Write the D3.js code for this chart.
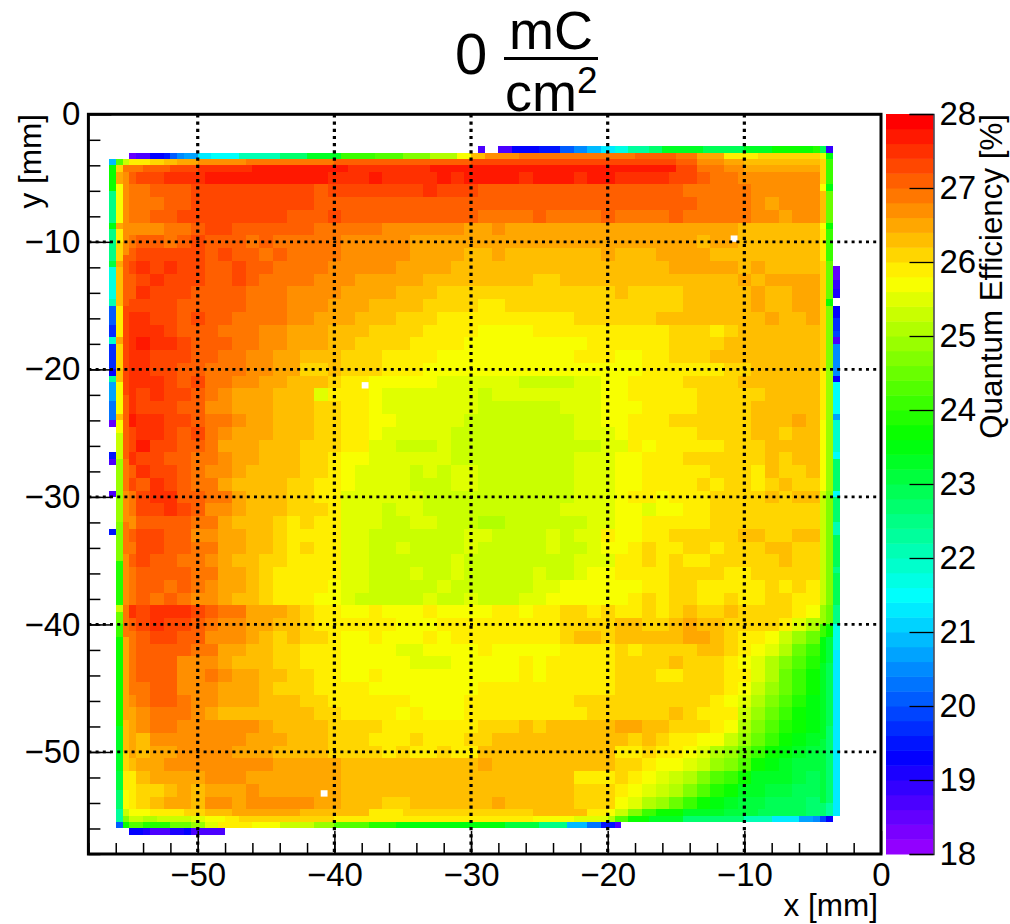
<!DOCTYPE html>
<html><head><meta charset="utf-8">
<script src="https://cdn.jsdelivr.net/npm/d3@7"></script>
<style>html,body{margin:0;padding:0;background:#fff}svg{display:block}text{font-family:"Liberation Sans",Arial,sans-serif;fill:#000}</style>
</head><body><svg id="c" width="1010" height="924"></svg>
<script>
// Quantum efficiency in tenths of a percent; main map: 1 mm cells, x from -55.5, y from -4.5
const qeRows = [
[270,272,272,274,274,274,276,276,276,276,276,276,276,276,276,274,274,274,276,274,274,274,274,276,274,276,276,276,276,274,276,276,276,274,276,276,274,274,274,274,272,272,270,268,268,266,266,266,266,266,266],
[268,268,270,270,270,272,272,272,272,272,272,272,272,272,270,272,272,272,272,272,272,272,274,272,272,272,270,270,270,270,270,270,270,270,270,270,270,270,270,270,270,268,268,268,268,268,266,266,266,266,266],
[268,268,268,270,270,272,272,272,272,272,272,272,272,272,270,270,270,270,270,270,270,270,270,270,270,270,270,270,270,270,270,270,270,270,270,270,270,270,270,270,270,270,268,268,268,268,266,264,266,266,266],
[268,268,270,270,272,272,272,272,272,272,272,272,270,270,270,272,270,270,270,270,270,270,270,270,270,270,268,268,268,268,270,268,268,268,268,270,268,268,268,268,270,268,268,268,268,268,266,266,264,266,266],
[266,266,266,268,268,270,272,272,270,270,270,270,270,270,268,268,268,268,268,266,266,266,266,266,266,264,264,266,264,264,264,264,264,264,264,264,264,264,264,264,264,264,264,264,264,262,262,262,262,262,262],
[268,270,270,268,270,272,270,270,270,268,270,268,268,268,268,268,266,266,266,266,266,264,264,264,264,264,264,264,264,264,264,264,264,264,264,264,264,264,264,264,264,264,262,264,264,262,262,262,262,262,262],
[270,272,272,272,272,272,270,272,270,270,268,270,268,268,268,268,266,266,266,266,266,264,264,264,264,262,262,264,262,262,262,262,262,262,262,264,262,262,262,264,264,264,264,262,262,262,262,262,262,262,262],
[272,274,272,274,272,272,270,270,272,270,270,268,268,268,268,266,266,266,266,266,264,264,264,264,262,262,262,262,262,262,262,262,262,262,262,262,262,262,262,262,264,264,264,264,264,262,264,262,262,262,262],
[270,272,274,272,272,272,270,270,272,270,268,268,268,268,266,266,266,264,264,264,264,264,262,262,262,262,262,262,262,262,260,260,262,262,262,262,262,262,262,262,262,262,262,262,262,264,262,264,264,264,264],
[270,274,272,272,272,270,270,270,270,268,268,268,266,266,266,266,264,264,264,264,262,262,262,260,260,260,260,260,260,260,260,260,260,260,260,260,262,260,260,260,260,262,262,262,262,262,264,262,262,264,264],
[272,272,272,272,270,270,270,270,270,268,268,268,266,266,266,264,264,264,262,262,262,262,260,260,260,260,258,258,260,260,260,260,260,260,260,260,260,260,260,260,260,262,262,262,262,262,264,262,262,264,264],
[274,274,272,272,270,272,270,270,268,268,268,268,266,266,264,264,264,262,262,262,260,260,260,258,258,258,258,258,258,258,258,258,258,260,260,260,260,260,260,262,262,262,262,262,262,262,262,264,262,262,264],
[274,274,274,272,270,270,270,268,268,268,266,266,264,264,264,262,262,262,260,260,260,260,258,258,258,258,256,256,256,256,258,258,258,258,258,258,258,258,258,258,260,260,260,258,260,262,262,262,262,262,262],
[274,276,274,274,272,270,270,270,268,268,266,266,264,264,264,262,262,260,260,260,260,258,258,258,258,256,256,256,256,256,256,256,256,256,258,258,258,258,258,258,260,260,260,260,262,262,262,262,262,262,262],
[274,274,272,272,272,270,270,268,268,266,266,264,264,262,262,262,260,260,260,258,258,258,258,256,256,256,256,256,256,256,256,256,256,258,258,258,256,256,258,258,260,260,260,262,262,262,262,262,262,262,262],
[274,274,272,272,270,270,268,268,268,266,266,264,264,260,260,262,260,260,260,258,258,258,256,256,256,256,256,256,256,256,256,256,256,256,256,256,256,256,258,258,258,258,258,258,260,260,262,262,262,262,262],
[274,274,274,272,270,272,268,268,266,266,264,264,262,262,262,260,258,258,256,256,256,256,256,254,254,254,254,254,254,252,252,252,252,254,254,256,256,258,258,258,258,260,260,260,260,262,262,262,262,262,262],
[274,272,274,272,272,270,268,266,264,264,264,262,262,262,254,258,258,258,256,254,254,254,254,254,254,254,252,254,254,254,254,254,254,254,254,256,256,258,258,258,258,258,260,260,260,260,260,262,262,262,262],
[274,272,272,272,270,270,266,266,264,264,264,262,262,262,260,260,258,258,256,254,254,254,254,254,254,254,252,252,252,252,252,252,254,254,254,256,256,256,258,258,258,258,260,260,260,260,262,262,262,262,262],
[276,274,274,272,272,270,268,268,266,264,264,262,262,262,260,260,258,258,256,256,254,254,254,254,254,252,252,252,252,252,252,252,252,254,254,256,256,258,258,258,260,260,260,260,260,260,262,262,262,264,262],
[272,274,274,272,270,272,268,266,264,264,264,262,262,262,260,260,258,258,256,254,254,254,254,254,252,252,252,252,252,252,252,252,252,254,254,254,256,258,258,258,258,258,260,260,260,260,262,262,260,262,262],
[272,276,272,272,270,270,268,264,264,264,262,262,262,260,260,260,258,258,254,254,252,252,252,254,252,252,252,252,252,252,252,252,252,252,252,254,254,258,256,258,258,258,258,258,260,260,260,262,262,262,262],
[274,272,272,270,270,268,268,266,264,264,262,262,262,260,260,258,256,256,254,254,254,254,254,254,252,252,252,252,252,252,252,252,252,254,254,254,256,256,258,258,258,260,260,260,260,260,260,262,260,262,262],
[270,274,272,272,270,268,266,266,264,262,262,262,262,260,260,258,256,254,254,254,254,252,254,252,254,254,252,252,252,252,252,252,252,254,254,254,256,256,258,258,258,258,258,260,260,260,258,262,260,260,262],
[272,270,274,272,270,268,268,264,262,262,262,262,260,260,258,258,256,254,254,254,254,252,252,252,254,254,252,252,252,252,252,252,252,254,254,254,256,256,258,258,258,258,260,258,260,260,258,260,262,260,260],
[268,272,274,274,270,270,268,268,264,262,262,262,260,260,258,258,254,254,254,254,254,254,252,252,252,252,252,252,252,252,252,252,252,254,254,254,256,258,258,256,258,258,258,260,260,260,260,262,260,262,262],
[268,272,272,274,272,270,266,266,264,262,262,262,260,260,260,258,254,254,254,252,254,254,252,252,252,252,252,252,252,252,252,252,254,254,254,254,256,256,254,256,256,258,258,260,260,260,260,260,260,260,260],
[266,270,270,270,270,268,268,264,262,262,262,260,258,260,258,258,254,254,254,252,252,254,254,252,252,252,250,250,252,252,252,252,252,252,254,254,256,256,258,258,258,258,258,260,260,260,260,260,260,260,260],
[270,272,272,270,270,266,266,264,264,262,262,260,258,258,258,258,254,254,252,252,252,252,252,252,252,254,254,252,252,252,252,254,252,254,254,258,256,256,258,258,260,260,260,260,260,262,262,260,260,262,262],
[268,272,272,270,270,268,268,264,264,262,262,260,258,260,258,258,254,254,252,252,254,252,252,252,252,254,252,252,252,252,252,254,252,252,254,256,256,258,260,258,258,260,260,258,260,260,260,262,262,260,260],
[270,272,270,270,268,268,266,264,262,262,260,260,258,258,258,258,254,254,252,252,252,252,252,252,254,252,252,252,252,252,252,252,252,254,254,254,258,258,260,258,260,258,258,260,260,260,260,260,262,260,260],
[268,270,270,270,270,268,268,264,264,262,260,258,258,258,258,258,254,254,252,252,252,254,252,252,254,252,252,252,252,252,254,252,252,254,256,256,258,258,258,258,260,260,260,260,258,258,260,260,260,260,260],
[268,270,270,268,270,268,266,264,264,262,260,258,258,258,258,256,254,254,252,252,252,252,252,254,252,252,252,252,252,252,254,254,256,256,256,256,256,256,258,258,260,260,258,258,258,258,258,260,258,260,258],
[268,270,268,270,268,266,266,264,262,262,260,258,258,258,256,256,254,252,252,252,252,252,254,252,252,254,252,252,252,254,254,256,256,256,256,256,256,258,260,258,260,260,258,258,260,258,258,260,260,258,258],
[274,272,274,274,274,272,270,268,268,264,264,264,262,260,258,258,256,256,258,256,256,256,258,256,256,256,256,258,258,256,258,258,260,260,258,260,258,258,260,258,260,262,260,260,262,260,260,260,260,258,256],
[270,272,274,272,272,270,268,266,266,264,264,262,262,260,258,258,258,258,258,258,256,256,256,258,258,258,258,258,258,258,258,258,260,260,260,260,262,262,260,260,262,264,262,262,260,260,260,260,258,254,250],
[268,270,272,272,270,270,266,266,266,264,262,260,262,260,260,258,256,256,258,256,256,256,258,256,258,258,258,258,258,258,258,258,260,262,262,260,262,262,262,262,262,264,264,262,260,258,258,256,252,248,244],
[268,270,270,270,270,268,268,264,264,262,262,260,260,258,258,258,256,256,256,256,254,254,256,256,256,256,258,256,256,256,256,256,258,258,258,258,260,258,260,260,260,260,262,262,260,258,256,254,250,244,240],
[268,270,270,270,266,266,266,264,262,262,262,260,260,258,258,258,256,256,256,256,256,254,254,254,256,256,256,256,256,258,256,258,258,258,258,258,260,260,260,260,262,260,260,260,258,256,254,250,246,242,238],
[268,270,270,270,266,266,268,266,264,264,262,262,260,260,258,258,256,256,258,256,256,256,256,256,256,256,256,256,256,258,256,258,258,258,258,258,260,260,260,258,258,260,260,260,258,258,254,250,244,240,236],
[268,268,270,270,266,266,266,264,264,264,262,260,260,260,258,258,258,258,256,256,256,256,256,256,256,256,258,258,258,258,258,258,258,258,258,258,260,260,260,260,260,260,260,260,258,256,252,248,244,240,236],
[266,268,270,270,268,266,266,264,264,264,262,262,262,260,260,258,258,258,258,258,258,256,256,256,256,258,258,258,258,258,258,258,258,260,260,260,260,260,260,260,260,260,260,258,256,254,250,246,242,238,234],
[264,266,268,268,268,266,264,262,262,262,262,262,262,262,260,260,258,258,258,258,256,258,256,256,256,258,258,258,258,258,258,258,258,258,260,260,260,260,260,260,262,260,258,258,258,252,248,244,240,236,234],
[264,266,268,268,266,266,266,266,266,266,264,262,262,262,262,260,260,260,260,258,258,258,258,258,258,258,260,260,260,262,260,262,262,262,262,262,264,264,262,262,260,260,260,258,256,250,246,242,238,236,234],
[264,262,266,266,266,266,266,266,266,264,264,264,262,262,262,260,260,260,258,258,258,260,258,258,258,260,260,262,262,262,262,262,262,262,262,262,262,260,262,260,258,258,256,256,252,248,244,240,236,234,232],
[264,262,264,264,266,266,266,266,264,264,264,262,262,262,262,260,260,260,260,258,260,258,258,260,258,258,262,262,262,262,262,262,262,262,262,262,258,258,260,258,258,256,254,250,248,244,240,236,234,232,230],
[262,264,264,266,266,266,266,266,266,266,266,264,264,264,264,264,262,262,262,262,262,262,262,262,262,262,264,262,262,262,262,262,262,262,262,262,260,260,258,256,256,254,252,248,246,242,236,234,232,230,230],
[258,262,264,264,264,264,266,266,266,264,264,264,264,264,264,264,262,262,262,262,262,262,262,262,262,262,262,262,262,262,262,262,262,258,258,258,260,258,256,254,252,250,246,242,240,236,232,232,232,230,228],
[258,260,260,262,264,262,264,264,264,266,264,264,264,264,264,264,262,262,262,262,262,262,262,262,262,262,262,262,262,262,262,262,262,260,260,260,258,256,254,252,250,246,242,238,236,232,232,230,230,228,228],
[258,260,262,264,264,262,266,266,264,266,266,266,266,266,264,264,262,262,262,260,260,262,262,262,262,262,262,264,262,262,262,262,262,260,260,260,256,254,250,248,244,240,236,234,232,230,230,228,228,228,226]
];
// Edge runs: [from mm, to mm, QE in tenths of a percent]
const rowT1 = [[-29.5,-29,186],[-28,-27,186],[-27,-25,192],[-25,-23.5,194],[-23.5,-22.5,200],[-22.5,-21.5,204],[-21.5,-20.5,208],[-20.5,-19.5,212],[-19.5,-18.5,216],[-18.5,-17,222],[-17,-16,226],[-16,-13,232],[-13,-10,228],[-10,-8,232],[-8,-5,236],[-5,-4.5,238],[-4.5,-4,228],[-4,-3.5,188]];
const rowT2 = [[-55,-54.5,184],[-54.5,-53.5,187],[-53.5,-52.5,192],[-52.5,-52,194],[-52,-51.5,200],[-51.5,-51,204],[-51,-50,207],[-50,-49,212],[-49,-47,215],[-47,-44,221],[-44,-42,227],[-42,-39.5,233],[-39.5,-37,240],[-37,-35,243],[-35,-33,246],[-33,-31,251],[-31,-30,256],[-30,-29,262],[-29,-26.5,266],[-26.5,-18,268],[-18,-15,270],[-15,-13.5,268],[-13.5,-11.5,264],[-11.5,-9,258],[-9,-4.5,260],[-4.5,-4,254],[-4,-3.5,234]];
const rowT3 = [[-55.5,-55,252],[-55,-53.5,258],[-53.5,-52.5,260],[-52.5,-51.5,262],[-51.5,-50,264],[-50,-46.5,266],[-46.5,-40,268],[-40,-30,270],[-30,-15,272],[-15,-13.5,270],[-13.5,-11.5,266],[-11.5,-10,264],[-10,-4.5,262]];
const rowT4 = [[-55.5,-54,268],[-54,-52,270],[-52,-50,272],[-50,-46,274],[-46,-39,276],[-39,-33,274],[-33,-15,276],[-15,-13.5,272],[-13.5,-11.5,268],[-11.5,-10,266],[-10,-4.5,264]];
const rowC = [[-55.5,-55,252],[-55,-53.5,256],[-53.5,-51,258],[-51,-49.5,260],[-49.5,-47.5,262],[-47.5,-42.5,264],[-42.5,-37.5,262],[-37.5,-35,258],[-35,-30,260],[-30,-25.5,260],[-25.5,-21.5,262],[-21.5,-20,258],[-20,-19.5,256],[-19.5,-18.5,252],[-18.5,-17.5,246],[-17.5,-16.5,240],[-16.5,-14.5,236],[-14.5,-11.5,232],[-11.5,-9,230],[-9,-5.5,228],[-5.5,-4.5,226]];
const rowD = [[-55.5,-55,246],[-55,-54,252],[-54,-53,250],[-53,-50.5,252],[-50.5,-49.5,254],[-49.5,-48,256],[-48,-47,258],[-47,-40,260],[-40,-25.5,258],[-25.5,-22.5,256],[-22.5,-20,254],[-20,-19.5,250],[-19.5,-18.5,242],[-18.5,-17,236],[-17,-14.5,232],[-14.5,-10,226],[-10,-8,220],[-8,-6,212],[-6,-5,206],[-5,-4.5,204],[-4.5,-4,198],[-4,-3.5,192]];
const rowE = [[-56,-55.5,200],[-55.5,-55,236],[-55,-54,242],[-54,-52,238],[-52,-50.5,244],[-50.5,-49.5,248],[-49.5,-48.5,254],[-48.5,-46,258],[-46,-44,256],[-44,-41.5,252],[-41.5,-40,248],[-40,-37.5,242],[-37.5,-35.5,238],[-35.5,-27.5,234],[-27.5,-25,230],[-25,-23,224],[-23,-21.5,208],[-21.5,-20.5,202],[-20.5,-19.5,194],[-19.5,-19,186]];
const rowF = [[-55,-54,192],[-54,-53.5,190],[-53.5,-52,186],[-52,-51,190],[-51,-50.5,192],[-50.5,-48,186]];
const colA = [[-3.5,-4,208],[-4,-6,236],[-6,-8.5,224],[-8.5,-9,234],[-9,-11.5,224],[-11.5,-12,230],[-12,-14.5,216],[-14.5,-15,220],[-15,-16.5,200],[-16.5,-17.5,196],[-17.5,-18,218],[-18,-20,196],[-20,-20.5,192],[-20.5,-21,222],[-21,-22.5,206],[-22.5,-24,202],[-24,-24.5,184],[-26.5,-27,194],[-27,-27.5,186],[-29.5,-30,186],[-32.5,-33,194]];
const colB = [[-3.5,-4,242],[-4,-4.5,260],[-4.5,-5.5,264],[-5.5,-8.5,256],[-8.5,-9,264],[-9,-10,258],[-10,-11.5,261],[-11.5,-12,264],[-12,-15,262],[-15,-17.5,258],[-17.5,-18,264],[-18,-20,260],[-20,-21,262],[-21,-23.5,256],[-23.5,-24,262],[-24,-25,256],[-25,-27,252],[-27,-32,248],[-32,-35,246],[-35,-38.5,238],[-38.5,-39,252],[-39,-40,244],[-40,-41,240],[-41,-48,237],[-48,-51.5,233],[-51.5,-53,230],[-53,-54.5,226],[-54.5,-55.5,222]];
const colN = [[-4.5,-11,266],[-11,-15,270],[-15,-22,272],[-22,-27,270],[-27,-29.5,268],[-29.5,-32,266],[-32,-34.5,268],[-34.5,-38.5,266],[-38.5,-41,268],[-41,-47.5,264],[-47.5,-50,262],[-50,-51.5,260],[-51.5,-53,258],[-53,-54.5,256]];
const colK = [[-3.5,-5.5,260],[-5.5,-6,256],[-6,-8.5,262],[-8.5,-9,256],[-9,-11.5,258],[-11.5,-20,260],[-20,-24,258],[-24,-29.5,256],[-29.5,-38.5,252],[-38.5,-40,248],[-40,-41,240],[-41,-43,234],[-43,-49,232],[-49,-54,230],[-54,-55,226]];
const colL = [[-3.5,-5.5,240],[-5.5,-6,234],[-6,-8.5,244],[-8.5,-9,236],[-9,-11.5,240],[-11.5,-14.5,244],[-14.5,-15,236],[-15,-20,246],[-20,-29.5,248],[-29.5,-38.5,246],[-38.5,-40,244],[-40,-41,236],[-41,-43,230],[-43,-48,228],[-48,-54,226],[-54,-55,222]];
const colM = [[-11.9,-13,184],[-13,-13.7,188],[-13.7,-14.4,190],[-15,-16,192],[-16,-17,196],[-17,-17.5,198],[-17.5,-18,186],[-18,-20.5,204],[-20.5,-21,192],[-21,-23.5,214],[-23.5,-24,206],[-24,-26.5,218],[-26.5,-27,214],[-27,-29.5,226],[-29.5,-30,214],[-30,-32,226],[-32,-33,220],[-33,-35.5,228],[-35.5,-36,224],[-36,-38.5,228],[-38.5,-40,224],[-40,-42,216],[-42,-55,212]];
const emptyBins = [[-38,-21],[-11,-9.5],[-41,-53]];
const xMajor = [-50,-40,-30,-20,-10,0], xMinor = d3.range(-58,0,2);
const yMajor = [0,-10,-20,-30,-40,-50], yMinor = d3.range(-58,0,2);
const zTicks = [18,19,20,21,22,23,24,25,26,27,28];
const nLevels = 50, zMin = 18, zMax = 28;

const X = d3.scaleLinear([-58,0],[88.4,881]);
const Y = d3.scaleLinear([0,-58],[114.3,854]);
const Z = d3.scaleLinear([zMin,zMax],[854,114]);
const hue = d3.scaleLinear([0,nLevels],[280,0]);
const level = v => Math.max(0,Math.min(nLevels-1,Math.floor(((v+0.5)/10-zMin)/((zMax-zMin)/nLevels))));
const color = v => d3.hsl(hue(level(v)+1),1,.5).formatHex();

const svg = d3.select('#c');
const put = (x0,x1,y0,y1,v) => svg.append('rect').attr('x',X(x0)).attr('y',Y(y0)).attr('width',X(x1)-X(x0)).attr('height',Y(y1)-Y(y0)).attr('fill',color(v)).attr('shape-rendering','crispEdges');

qeRows.forEach((r,i)=>r.forEach((v,j)=>put(-55.5+j,-54.5+j,-4.5-i,-5.5-i,v)));
const hRow = (a,y0,y1)=>a.forEach(s=>put(s[0],s[1],y0,y1,s[2]));
const vCol = (a,x0,x1)=>a.forEach(s=>put(x0,x1,s[0],s[1],s[2]));
hRow(rowT1,-2.5,-3);hRow(rowT2,-3,-3.5);hRow(rowT3,-3.5,-4);hRow(rowT4,-4,-4.5);
hRow(rowC,-54.5,-55);hRow(rowD,-55,-55.5);hRow(rowE,-55.5,-56);hRow(rowF,-56,-56.5);
vCol(colA,-56.5,-56);vCol(colB,-56,-55.5);vCol(colN,-55.5,-55);vCol(colK,-4.5,-4);vCol(colL,-4,-3.5);vCol(colM,-3.5,-3);
svg.selectAll('rect.e').data(emptyBins).join('rect').attr('class','e').attr('x',d=>X(d[0])).attr('y',d=>Y(d[1])).attr('width',X(-.5)-X(-1)).attr('height',Y(-.5)-Y(0)).attr('fill','#fff');

// palette
svg.append('g').selectAll('rect').data(d3.range(nLevels)).join('rect')
 .attr('x',886).attr('width',47.5)
 .attr('y',i=>Z(zMin+(i+1)*(zMax-zMin)/nLevels)).attr('height',(Z(zMin)-Z(zMax))/nLevels+.5)
 .attr('fill',i=>d3.hsl(hue(i+1),1,.5).formatHex());

// grid
svg.append('g').selectAll('line').data(xMajor.slice(0,5)).join('line').attr('x1',d=>X(d)).attr('x2',d=>X(d)).attr('y1',Y(0)).attr('y2',Y(-58))
 .attr('stroke','#000').attr('stroke-width',3.2).attr('stroke-dasharray','3.2 4');
svg.append('g').selectAll('line').data(yMajor.slice(1)).join('line').attr('y1',d=>Y(d)).attr('y2',d=>Y(d)).attr('x1',X(-58)).attr('x2',X(0))
 .attr('stroke','#000').attr('stroke-width',2.8).attr('stroke-dasharray','3 4.2');

// axes
const fmt = d => String(d).replace('-','\u2212');
const xMin = svg.append('g').attr('transform',`translate(0,${Y(-58)})`).call(d3.axisBottom(X).tickValues(xMinor).tickSize(-11).tickFormat(''));
const xAx = svg.append('g').attr('transform',`translate(0,${Y(-58)})`).call(d3.axisBottom(X).tickValues(xMajor).tickSize(-23).tickPadding(9).tickFormat(fmt));
const yMin = svg.append('g').attr('transform',`translate(${X(-58)},0)`).call(d3.axisLeft(Y).tickValues(yMinor).tickSize(-12).tickFormat(''));
const yAx = svg.append('g').attr('transform',`translate(${X(-58)},0)`).call(d3.axisLeft(Y).tickValues(yMajor).tickSize(-23).tickPadding(8).tickFormat(fmt));
const zAx = svg.append('g').attr('transform','translate(933.5,0)').call(d3.axisRight(Z).tickValues(zTicks).tickSize(-24).tickPadding(6));
[xMin,xAx,yMin,yAx].forEach(g=>{g.select('.domain').remove();g.selectAll('line').attr('stroke-width',1.5);});
zAx.selectAll('line').attr('stroke-width',1.3);
zAx.select('.domain').attr('stroke','#223').attr('stroke-width',1.3);
svg.selectAll('.tick text').attr('font-size',33).attr('font-family','"Liberation Sans"').attr('fill','#000');

svg.append('rect').attr('x',X(-58)).attr('y',Y(0)).attr('width',X(0)-X(-58)).attr('height',Y(-58)-Y(0)).attr('fill','none').attr('stroke','#000').attr('stroke-width',3);

// titles
const t=(s,x,y,size,anchor='start',rot)=>{const e=svg.append('text').attr('font-size',size).attr('text-anchor',anchor).text(s);
 e.attr('transform',`translate(${x},${y})`+(rot?` rotate(${rot})`:''));return e;};
t('x [mm]',878,916,31.5,'end');
t('y [mm]',41,114,31.5,'end',-90);
t('Quantum Efficiency [%]',1001.5,114,31.3,'end',-90);
t('0',455,74,58);
t('mC',509,49,54);
t('cm',505,111,54);
t('2',577,93,37);
svg.append('line').attr('x1',504).attr('x2',598).attr('y1',58.5).attr('y2',58.5).attr('stroke','#000').attr('stroke-width',3);
</script></body></html>
